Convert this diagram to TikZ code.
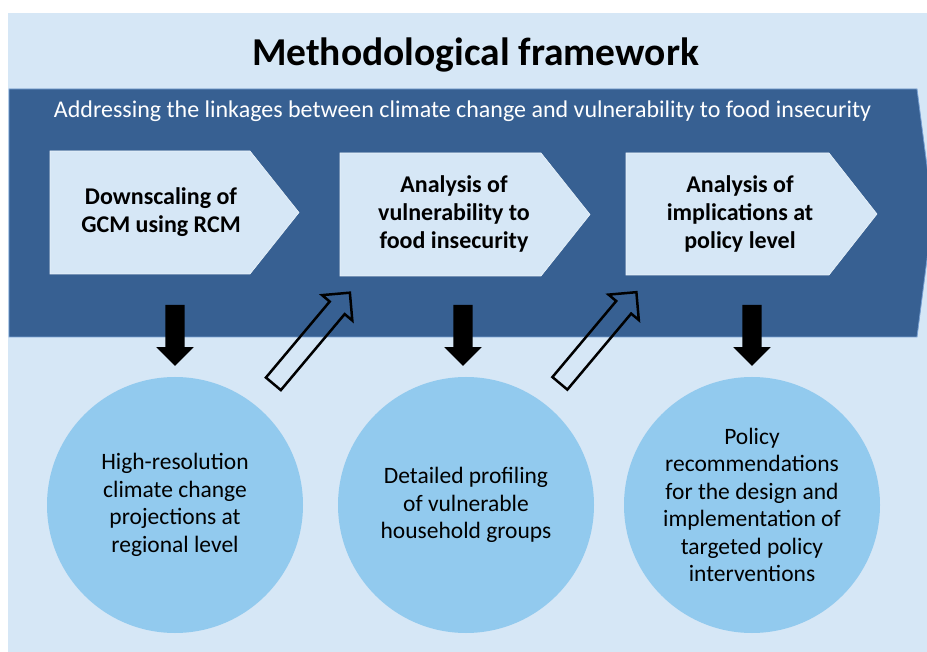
\documentclass[tikz,border=0pt]{standalone}
\usepackage{fontspec}
\setmainfont{Carlito}
\usetikzlibrary{shapes.arrows}
\definecolor{bgblue}{RGB}{214,231,246}
\definecolor{band}{RGB}{55,96,146}
\definecolor{circ}{RGB}{146,202,238}
\definecolor{bandedge}{RGB}{120,160,210}
\begin{document}
\begin{tikzpicture}[x=1pt,y=-1pt,
  stepbox/.style={fill=bgblue, draw=white!50!bgblue, line width=0.6pt},
  boxtext/.style={font=\fontsize{24}{28}\selectfont\bfseries, align=center, text=black, inner sep=0pt},
  circnode/.style={circle, fill=circ, minimum size=256pt, inner sep=0pt, font=\fontsize{23.5}{27.5}\selectfont, align=center},
  downarrow/.style={single arrow, fill=black, rotate=-90, minimum height=61pt, inner xsep=0pt, inner ysep=9.5pt, single arrow head extend=9pt, single arrow head indent=0pt},
  diagarrow/.style={single arrow, draw=black, line width=2.5pt, rotate=50, minimum height=119pt, inner xsep=0pt, inner ysep=8.5pt, single arrow head extend=10pt},
]
\useasboundingbox (0,0) rectangle (927,652);
\fill[bgblue] (8,13) rectangle (927,652);
% band
\filldraw[fill=band, draw=bandedge, line width=0.8pt] (9,89) -- (917,89) -- (933,212.5) -- (917,337) -- (9,337) -- cycle;
\node[font=\fontsize{39.5}{42}\selectfont\bfseries] (title) at (475.5,55) {Methodological framework};
\node[font=\fontsize{24}{28}\selectfont, text=white] (sub) at (462.5,111) {Addressing the linkages between climate change and vulnerability to food insecurity};
% step boxes
\path[stepbox] (50,151) -- (250,151) -- (299,212.5) -- (250,274) -- (50,274) -- cycle;
\path[stepbox] (340,153) -- (541,153) -- (590,214.5) -- (541,276) -- (340,276) -- cycle;
\path[stepbox] (626,153) -- (829,153) -- (877,214) -- (829,275) -- (626,275) -- cycle;
\node[boxtext] (b1) at (161,212) {Downscaling of\\GCM using RCM};
\node[boxtext] (b2) at (454,214) {Analysis of\\vulnerability to\\food insecurity};
\node[boxtext] (b3) at (740,214) {Analysis of\\implications at\\policy level};
% circles
\node[circnode] (c1) at (175,505) {High-resolution\\climate change\\projections at\\regional level};
\node[circnode] (c2) at (466,505) {Detailed profiling\\of vulnerable\\household groups};
\node[circnode] (c3) at (752,505) {Policy\\recommendations\\for the design and\\implementation of\\targeted policy\\interventions};
% arrows
\node[downarrow] (d1) at (175,330.5) {};
\node[downarrow] (d2) at (463,330.5) {};
\node[downarrow] (d3) at (752,330.5) {};
\node[diagarrow] (u1) at (308.5,342) {};
\node[diagarrow] (u2) at (595,341.5) {};
\end{tikzpicture}
\end{document}
